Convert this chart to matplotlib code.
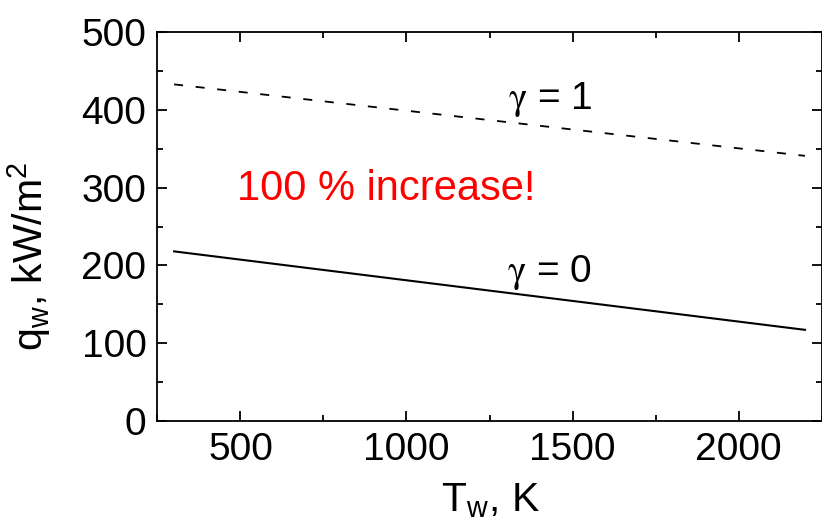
import matplotlib
matplotlib.use("Agg")
import matplotlib.pyplot as plt
from matplotlib.ticker import MultipleLocator

plt.rcParams['font.family'] = ['Liberation Sans', 'DejaVu Sans']
plt.rcParams['mathtext.fontset'] = 'custom'
plt.rcParams['mathtext.rm'] = 'Liberation Sans'
plt.rcParams['mathtext.it'] = 'Liberation Sans'

# Wall heat flux vs wall temperature for two recombination coefficients
T_w = [300, 2200]
q_gamma0 = [218, 117]
q_gamma1 = [433, 341]

W, H = 822, 530
fig = plt.figure(figsize=(W / 100, H / 100), dpi=100)
ax = fig.add_axes([0.1916, 0.2062, 0.8078, 0.7328])

ax.plot(T_w, q_gamma1, color='black', lw=1.3, linestyle=(0, (5, 7)))
ax.plot(T_w, q_gamma0, color='black', lw=1.5)

ax.set_xlim(250, 2250)
ax.set_ylim(0, 500)
ax.xaxis.set_major_locator(MultipleLocator(500))
ax.xaxis.set_minor_locator(MultipleLocator(250))
ax.yaxis.set_major_locator(MultipleLocator(100))
ax.yaxis.set_minor_locator(MultipleLocator(50))

ax.tick_params(which='both', direction='in', top=True, right=True,
               labelsize=28, width=1.3, pad=8)
ax.tick_params(which='major', length=7)
ax.tick_params(which='minor', length=4)
for s in ax.spines.values():
    s.set_linewidth(1.3)

# axis titles placed by their baselines
fig.text(490 / W, 1 - 511.5 / H, r'T$_\mathregular{w}$, K', fontsize=29.5,
         ha='center', va='baseline')
fig.text(43 / W, 1 - 256 / H, r'q$_\mathregular{w}$, kW/m$^\mathregular{2}$',
         fontsize=29.5, rotation=90, rotation_mode='anchor',
         ha='center', va='baseline')

ax.text(1306, 401, r'$\mathrm{\gamma}$ = 1', fontsize=28, math_fontfamily='stix',
        ha='left', va='baseline')
ax.text(1303, 179, r'$\mathrm{\gamma}$ = 0', fontsize=28, math_fontfamily='stix',
        ha='left', va='baseline')
ax.text(488, 284, '100 % increase!', fontsize=30, color='red',
        ha='left', va='baseline')

fig.savefig('out.png', dpi=100)
